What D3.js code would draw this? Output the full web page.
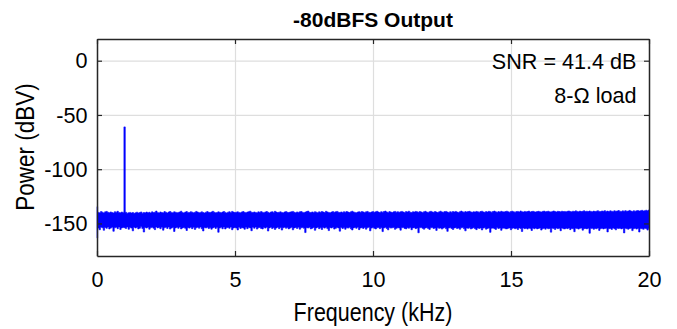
<!DOCTYPE html>
<html>
<head>
<meta charset="utf-8">
<script src="https://cdn.jsdelivr.net/npm/d3@7"></script>
<style>
  html, body { margin: 0; padding: 0; background: #fff; }
  svg { display: block; }
  text { font-family: "Liberation Sans", Arial, Helvetica, sans-serif; fill: #000; }
</style>
</head>
<body>
<svg id="chart" width="677" height="329"></svg>
<script>
// Output spectrum for a -80 dBFS, 1 kHz tone
const chartTitle = "-80dBFS Output";
const xLabel = "Frequency (kHz)";
const yLabel = "Power (dBV)";
const notes = ["SNR = 41.4 dB", "8-\u03A9 load"];

const xTicks = [0, 5, 10, 15, 20];
const yTicks = [0, -50, -100, -150];
const xDomain = [0, 20];
const yDomain = [-180, 20];

// FFT bins are 0.05 kHz wide; each bin keeps the highest and lowest power (dBV)
// seen within it. Bin 20 (1 kHz) holds the test tone.
const binWidth = 0.05;

const powerMax = [
  -134.5,-139.8,-140.2,-139.1,-139.6,-140.4,-139.3,-138.9,-139.7,-140.1,-139.4,-139.9,-140.3,-139.2,-139.6,-138.8,-139.9,-140.2,-139.5,-139.8,
  -61.0,-139.7,-140.6,-140.1,-139.8,-140.4,-139.9,-140.7,-140.2,-139.6,-140.3,-140.0,-139.4,-140.5,-139.9,-140.2,-139.5,-140.1,-139.7,-140.4,
  -139.3,-140.0,-139.6,-138.6,-139.8,-140.3,-139.4,-139.9,-140.2,-139.1,-139.7,-140.4,-139.5,-139.0,-139.8,-140.1,-139.3,-139.6,-140.2,-139.8,
  -139.4,-138.7,-139.9,-140.3,-139.5,-139.1,-139.8,-140.0,-139.2,-139.6,-140.2,-139.7,-138.9,-139.5,-140.1,-139.8,-139.3,-139.9,-140.4,-139.6,
  -139.1,-139.7,-140.0,-139.4,-138.8,-139.6,-140.2,-139.9,-139.3,-139.7,-140.1,-139.5,-139.0,-139.8,-140.3,-139.6,-139.2,-139.9,-138.9,-139.5,
  -140.0,-139.6,-139.3,-139.8,-140.2,-139.4,-139.0,-139.7,-140.1,-139.5,-139.2,-138.7,-139.6,-140.0,-139.4,-139.8,-140.2,-139.3,-139.7,-139.1,
  -139.6,-140.1,-139.4,-139.0,-139.7,-140.3,-139.5,-139.2,-139.8,-138.8,-139.5,-140.0,-139.6,-139.3,-139.9,-140.2,-139.4,-139.1,-139.7,-140.0,
  -139.5,-139.2,-138.9,-139.7,-140.1,-139.4,-139.8,-139.3,-139.0,-139.6,-140.2,-139.5,-139.1,-138.6,-139.7,-140.0,-139.4,-139.8,-139.2,-139.6,
  -140.1,-139.3,-139.7,-139.0,-139.5,-139.9,-138.8,-139.4,-139.8,-140.2,-139.5,-139.1,-139.7,-139.3,-138.9,-139.6,-140.0,-139.4,-139.8,-139.2,
  -139.6,-139.0,-139.5,-139.9,-139.3,-138.7,-139.4,-139.8,-140.1,-139.5,-139.2,-139.7,-139.0,-139.4,-139.8,-139.3,-138.9,-139.6,-140.0,-139.4,
  -139.1,-139.7,-139.3,-138.8,-139.5,-139.9,-139.2,-139.6,-139.0,-138.6,-139.4,-139.8,-139.1,-139.5,-139.9,-139.3,-138.9,-139.6,-139.2,-139.7,
  -139.3,-138.9,-139.5,-139.8,-139.1,-139.4,-138.7,-139.6,-139.9,-139.2,-139.5,-138.9,-139.3,-139.7,-139.0,-139.4,-139.8,-139.2,-138.8,-139.5,
  -139.8,-139.2,-138.8,-139.4,-139.7,-139.0,-139.5,-139.9,-139.3,-138.7,-139.4,-139.6,-139.1,-138.9,-139.5,-139.8,-139.2,-139.6,-139.0,-139.4,
  -138.9,-139.5,-139.8,-139.2,-138.6,-139.3,-139.7,-139.1,-139.5,-139.0,-138.8,-139.4,-139.7,-139.2,-139.5,-138.9,-139.3,-139.6,-139.0,-138.7,
  -139.4,-139.7,-139.1,-139.5,-138.8,-139.2,-139.6,-139.0,-138.6,-139.3,-139.7,-139.1,-139.4,-138.8,-139.2,-139.5,-139.0,-138.7,-139.3,-139.6,
  -139.0,-138.7,-139.3,-139.6,-139.1,-138.9,-139.4,-138.5,-139.2,-139.5,-138.9,-139.3,-139.0,-138.6,-139.4,-139.1,-138.8,-139.3,-139.5,-139.0,
  -138.8,-139.2,-139.5,-138.9,-138.6,-139.3,-139.0,-138.7,-139.2,-139.4,-138.9,-138.5,-139.1,-139.4,-138.8,-139.0,-139.3,-138.7,-139.1,-138.9,
  -139.2,-138.8,-138.5,-139.1,-139.3,-138.7,-139.0,-138.4,-138.9,-139.2,-138.6,-139.0,-138.8,-138.3,-139.1,-138.7,-139.0,-138.5,-138.9,-139.2,
  -138.6,-139.0,-138.7,-138.3,-138.9,-139.1,-138.5,-138.8,-138.2,-138.9,-138.6,-139.0,-138.4,-138.7,-138.9,-138.3,-138.8,-138.5,-138.1,-138.7,
  -138.9,-138.4,-138.7,-138.2,-138.8,-138.5,-138.0,-138.6,-138.9,-138.3,-138.7,-138.4,-138.1,-138.6,-138.3,-137.9,-138.5,-138.2,-137.8,-138.4,
  -137.6
];

const powerMin = [
  -163.5,-154.2,-155.8,-153.4,-154.0,-156.3,-153.7,-154.5,-153.2,-155.1,-154.3,-153.6,-157.2,-154.0,-153.5,-154.8,-153.3,-155.6,-154.1,-153.8,
  -153.9,-154.6,-153.2,-155.4,-153.8,-154.3,-156.8,-153.6,-154.2,-153.4,-155.0,-154.4,-153.1,-154.7,-157.9,-153.8,-154.2,-153.5,-155.3,-154.0,
  -153.6,-154.4,-155.7,-153.3,-154.1,-153.7,-154.9,-153.4,-156.2,-154.0,-153.5,-154.6,-153.2,-155.2,-154.3,-153.8,-157.4,-154.1,-153.6,-154.5,
  -153.3,-155.0,-154.2,-153.7,-154.5,-156.5,-153.9,-154.3,-153.4,-154.8,-153.6,-155.5,-154.0,-153.5,-154.4,-153.2,-154.9,-156.9,-153.8,-154.2,
  -153.5,-154.7,-153.9,-155.3,-154.1,-153.4,-154.6,-153.8,-158.1,-154.3,-153.6,-154.9,-153.3,-155.1,-154.0,-153.7,-154.5,-153.2,-155.8,-154.2,
  -153.7,-154.3,-156.0,-153.5,-154.6,-153.9,-154.2,-155.4,-153.4,-154.8,-153.8,-154.1,-156.7,-153.6,-154.4,-153.3,-155.2,-154.0,-153.7,-154.6,
  -155.1,-153.8,-154.3,-153.5,-157.0,-154.1,-153.6,-154.7,-153.9,-155.5,-154.2,-153.4,-154.8,-153.7,-156.1,-154.0,-153.5,-154.4,-153.8,-155.0,
  -154.3,-153.6,-155.9,-154.1,-153.7,-154.6,-153.4,-155.3,-154.0,-153.8,-154.5,-158.4,-153.9,-154.2,-153.5,-155.0,-154.4,-153.7,-156.3,-154.1,
  -153.6,-154.8,-154.0,-155.6,-153.8,-154.3,-153.5,-154.7,-156.6,-153.9,-154.2,-153.6,-155.2,-154.5,-153.8,-154.1,-157.1,-153.7,-154.6,-154.0,
  -155.4,-153.9,-154.3,-153.6,-154.9,-156.0,-154.1,-153.8,-154.5,-153.5,-155.7,-154.2,-153.9,-154.6,-153.7,-155.3,-154.0,-153.6,-156.8,-154.3,
  -153.8,-154.5,-155.1,-154.0,-153.7,-154.8,-153.9,-157.5,-154.2,-153.6,-154.7,-155.9,-153.8,-154.3,-154.0,-153.7,-155.4,-154.5,-153.9,-154.2,
  -156.2,-154.0,-153.8,-154.6,-155.0,-153.9,-154.4,-153.7,-155.8,-154.1,-153.9,-154.8,-154.2,-158.6,-154.0,-153.8,-154.5,-155.3,-154.1,-153.9,
  -154.6,-155.5,-154.0,-153.8,-154.7,-154.2,-156.4,-153.9,-154.5,-154.1,-155.2,-154.3,-153.8,-154.9,-157.3,-154.2,-154.0,-154.6,-155.6,-154.1,
  -153.9,-154.7,-154.3,-155.4,-154.0,-153.8,-154.9,-156.8,-154.2,-154.5,-154.0,-155.1,-154.4,-153.9,-154.8,-155.7,-154.1,-154.6,-154.2,-156.0,
  -154.3,-154.0,-155.3,-154.6,-154.2,-158.2,-154.5,-154.1,-154.8,-155.5,-154.0,-154.7,-154.3,-156.3,-154.5,-154.2,-154.9,-155.0,-154.4,-154.1,
  -155.8,-154.5,-154.2,-154.9,-154.4,-155.6,-154.1,-154.7,-157.4,-154.3,-154.8,-154.5,-155.2,-154.2,-154.6,-156.5,-154.4,-154.9,-154.3,-155.0,
  -154.6,-154.3,-156.1,-154.8,-154.5,-155.3,-154.2,-154.9,-154.6,-158.0,-154.4,-154.7,-155.5,-154.3,-154.8,-154.5,-156.7,-154.2,-154.9,-155.1,
  -154.5,-154.8,-154.3,-155.7,-154.6,-154.9,-157.6,-154.4,-154.7,-155.2,-154.5,-154.3,-156.2,-154.8,-154.6,-155.0,-154.4,-159.0,-154.7,-154.5,
  -155.4,-154.6,-154.9,-154.3,-156.4,-154.8,-154.5,-155.1,-154.7,-154.4,-157.8,-154.9,-154.6,-155.5,-154.3,-154.8,-155.9,-154.5,-154.7,-154.4,
  -155.0,-154.7,-158.7,-154.5,-154.9,-155.3,-154.6,-154.4,-156.6,-154.8,-154.5,-155.2,-154.7,-157.9,-154.6,-154.9,-155.4,-154.5,-154.8,-156.1,
  -154.6
];

const svg = d3.select("#chart");
const margin = { top: 39, right: 28, bottom: 73, left: 97 };
const W = 677, H = 329;
const iw = W - margin.left - margin.right;
const ih = H - margin.top - margin.bottom;

const x = d3.scaleLinear().domain(xDomain).range([0, iw]);
const y = d3.scaleLinear().domain(yDomain).range([ih, 0]);

const g = svg.append("g").attr("transform", `translate(${margin.left},${margin.top})`);

// grid
g.append("g")
  .attr("transform", `translate(0,${ih})`)
  .call(d3.axisBottom(x).tickValues(xTicks).tickSize(-ih).tickFormat(""))
  .call(s => s.select(".domain").remove())
  .call(s => s.selectAll("line").attr("stroke", "#dedede").attr("stroke-width", 1.2));
g.append("g")
  .call(d3.axisLeft(y).tickValues(yTicks).tickSize(-iw).tickFormat(""))
  .call(s => s.select(".domain").remove())
  .call(s => s.selectAll("line").attr("stroke", "#dedede").attr("stroke-width", 1.2));

// spectrum: per-bin max/min envelope
const bins = powerMax.map((p, i) => ({ f: i * binWidth, hi: p, lo: powerMin[i] }));
g.append("path")
  .datum(bins)
  .attr("fill", "#0000ff")
  .attr("stroke", "#0000ff")
  .attr("stroke-width", 0.6)
  .attr("d", d3.area()
    .curve(d3.curveStep)
    .x(d => x(d.f))
    .y0(d => y(d.lo))
    .y1(d => y(d.hi)));

// axes with inward ticks on all four sides
const axisColor = "#262626";
const tickFont = 22.5, tickScale = 0.96;
function styleAxis(s) {
  s.select(".domain").attr("stroke", axisColor).attr("stroke-width", 1.5);
  s.selectAll(".tick line").attr("stroke", axisColor).attr("stroke-width", 1.2);
  s.selectAll(".tick text").attr("font-size", tickFont).attr("fill", "#000")
    .attr("transform", `scale(${tickScale},1)`);
}
const fmt = d => String(d);
g.append("g")
  .attr("transform", `translate(0,${ih})`)
  .call(d3.axisBottom(x).tickValues(xTicks).tickSizeInner(-5).tickSizeOuter(0).tickPadding(15).tickFormat(fmt))
  .call(styleAxis);
g.append("g")
  .call(d3.axisTop(x).tickValues(xTicks).tickSizeInner(-5).tickSizeOuter(0).tickFormat(""))
  .call(styleAxis);
g.append("g")
  .call(d3.axisLeft(y).tickValues(yTicks).tickSizeInner(-5).tickSizeOuter(0).tickPadding(10).tickFormat(fmt))
  .call(styleAxis);
g.append("g")
  .attr("transform", `translate(${iw},0)`)
  .call(d3.axisRight(y).tickValues(yTicks).tickSizeInner(-5).tickSizeOuter(0).tickFormat(""))
  .call(styleAxis);

// text helper: places text at (tx, ty) with a horizontal squeeze
function label(parent, tx, ty, str, size, sx, anchor, rot) {
  const t = parent.append("g")
    .attr("transform", `translate(${tx},${ty})` + (rot ? ` rotate(${rot})` : "") + ` scale(${sx},1)`)
    .append("text")
    .attr("text-anchor", anchor)
    .attr("font-size", size)
    .text(str);
  return t;
}

// title and axis labels
label(svg, margin.left + iw / 2, 27, chartTitle, 21, 1, "middle").attr("font-weight", "bold");
label(svg, margin.left + iw / 2, 321, xLabel, 25, 0.86, "middle");
label(svg, 34, margin.top + iw * 0 + 108, yLabel, 25, 0.9, "middle", -90);

// annotations
notes.forEach((n, i) => label(svg, 636.5, 69 + i * 34.3, n, 22.5, 0.96, "end"));
</script>
</body>
</html>
